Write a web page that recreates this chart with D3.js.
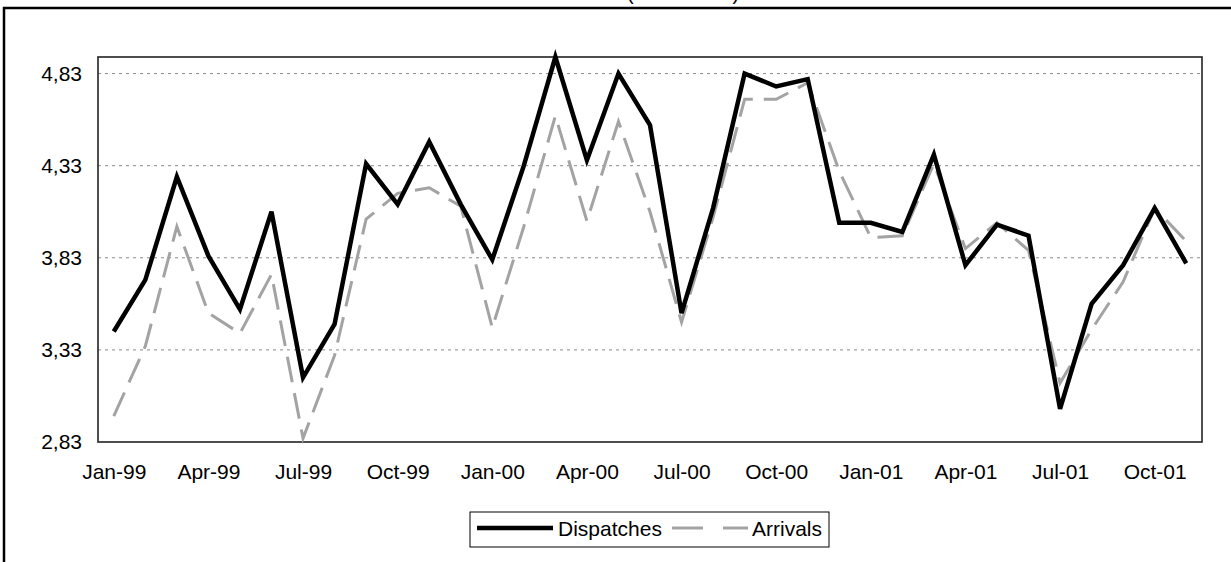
<!DOCTYPE html>
<html>
<head>
<meta charset="utf-8">
<script src="https://cdn.jsdelivr.net/npm/d3@7"></script>
<style>
  html, body { margin: 0; padding: 0; background: #fff; }
  svg { display: block; font-family: "Liberation Sans", Arial, sans-serif; }
</style>
</head>
<body>
<svg id="chart" width="1231" height="562"></svg>
<script>
// Monthly categories, Jan-99 .. Nov-01
const months = [
  "Jan-99","Feb-99","Mar-99","Apr-99","May-99","Jun-99","Jul-99","Aug-99","Sep-99","Oct-99","Nov-99","Dec-99",
  "Jan-00","Feb-00","Mar-00","Apr-00","May-00","Jun-00","Jul-00","Aug-00","Sep-00","Oct-00","Nov-00","Dec-00",
  "Jan-01","Feb-01","Mar-01","Apr-01","May-01","Jun-01","Jul-01","Aug-01","Sep-01","Oct-01","Nov-01"
];

const dispatches = [
  3.43, 3.71, 4.27, 3.84, 3.55, 4.08, 3.18, 3.47, 4.34, 4.12, 4.46, 4.12,
  3.82, 4.33, 4.92, 4.36, 4.83, 4.55, 3.53, 4.10, 4.83, 4.76, 4.80, 4.02,
  4.02, 3.97, 4.39, 3.79, 4.01, 3.95, 3.01, 3.58, 3.79, 4.10, 3.80
];

const arrivals = [
  2.97, 3.35, 4.00, 3.53, 3.42, 3.74, 2.85, 3.30, 4.04, 4.18, 4.21, 4.11,
  3.45, 4.00, 4.60, 4.03, 4.57, 4.08, 3.48, 4.05, 4.69, 4.69, 4.78, 4.30,
  3.94, 3.95, 4.34, 3.88, 4.02, 3.87, 3.15, 3.44, 3.70, 4.10, 3.92
];

const yTicks = [2.83, 3.33, 3.83, 4.33, 4.83];
const xTickLabels = ["Jan-99","Apr-99","Jul-99","Oct-99","Jan-00","Apr-00","Jul-00","Oct-00","Jan-01","Apr-01","Jul-01","Oct-01"];
const seriesNames = ["Dispatches", "Arrivals"];
const titleText = "(EUR billion)";

const svg = d3.select("#chart");
const plot = { left: 98, top: 57, right: 1202, bottom: 442 };
const fontSize = 21;

const x = d3.scalePoint().domain(months).range([plot.left, plot.right]).padding(0.5);
const y = d3.scaleLinear().domain([2.83, 4.92]).range([plot.bottom, plot.top]);

const locale = d3.formatLocale({ decimal: ",", thousands: ".", grouping: [3], currency: ["", ""] });
const fmt = locale.format(".2f");

// Outer chart frame (extends past the visible edges)
svg.append("path")
  .attr("d", "M4,570 V8 H1240")
  .attr("fill", "none").attr("stroke", "#000").attr("stroke-width", 2.5);

// Title, sitting above the top edge of the frame
svg.append("text")
  .attr("x", 683).attr("y", 0)
  .attr("text-anchor", "middle")
  .attr("font-size", 20)
  .attr("fill", "#000")
  .text(titleText);

// Gridlines
svg.append("g").selectAll("line")
  .data(yTicks.filter(t => t > 2.83))
  .join("line")
  .attr("x1", plot.left).attr("x2", plot.right)
  .attr("y1", d => y(d)).attr("y2", d => y(d))
  .attr("stroke", "#8a8a8a").attr("stroke-width", 1)
  .attr("stroke-dasharray", "3,4");

// Plot area border
svg.append("rect")
  .attr("x", plot.left).attr("y", plot.top)
  .attr("width", plot.right - plot.left).attr("height", plot.bottom - plot.top)
  .attr("fill", "none").attr("stroke", "#222").attr("stroke-width", 1.6);

// Y axis
const yAxis = svg.append("g")
  .attr("transform", `translate(${plot.left},0)`)
  .call(d3.axisLeft(y).tickValues(yTicks).tickSize(0).tickPadding(16).tickFormat(fmt));
yAxis.select(".domain").remove();
yAxis.selectAll("text")
  .attr("font-size", fontSize).attr("font-family", "Liberation Sans, Arial, sans-serif").attr("fill", "#000");

// X axis
const xAxis = svg.append("g")
  .attr("transform", `translate(0,${plot.bottom})`)
  .call(d3.axisBottom(x).tickValues(xTickLabels).tickSize(0).tickPadding(22));
xAxis.select(".domain").remove();
xAxis.selectAll("text")
  .attr("font-size", fontSize).attr("font-family", "Liberation Sans, Arial, sans-serif").attr("fill", "#000");

// Series lines
const line = d3.line()
  .x((d, i) => x(months[i]))
  .y(d => y(d));

svg.append("path")
  .datum(arrivals)
  .attr("d", line)
  .attr("fill", "none")
  .attr("stroke", "#a3a3a3").attr("stroke-width", 3)
  .attr("stroke-dasharray", "26,11")
  .attr("stroke-linejoin", "miter");

svg.append("path")
  .datum(dispatches)
  .attr("d", line)
  .attr("fill", "none")
  .attr("stroke", "#000").attr("stroke-width", 4.5)
  .attr("stroke-linejoin", "miter");

// Legend
const legend = svg.append("g");
legend.append("rect")
  .attr("x", 470).attr("y", 512).attr("width", 359).attr("height", 35)
  .attr("fill", "#fff").attr("stroke", "#000").attr("stroke-width", 1);

legend.append("line")
  .attr("x1", 477).attr("x2", 553).attr("y1", 528).attr("y2", 528)
  .attr("stroke", "#000").attr("stroke-width", 4.5);
legend.append("text")
  .attr("x", 558).attr("y", 536)
  .attr("font-size", fontSize).attr("fill", "#000")
  .text(seriesNames[0]);

legend.append("line")
  .attr("x1", 672).attr("x2", 748).attr("y1", 528).attr("y2", 528)
  .attr("stroke", "#a3a3a3").attr("stroke-width", 3)
  .attr("stroke-dasharray", "31,20");
legend.append("text")
  .attr("x", 752).attr("y", 536)
  .attr("font-size", fontSize).attr("fill", "#000")
  .text(seriesNames[1]);
</script>
</body>
</html>
